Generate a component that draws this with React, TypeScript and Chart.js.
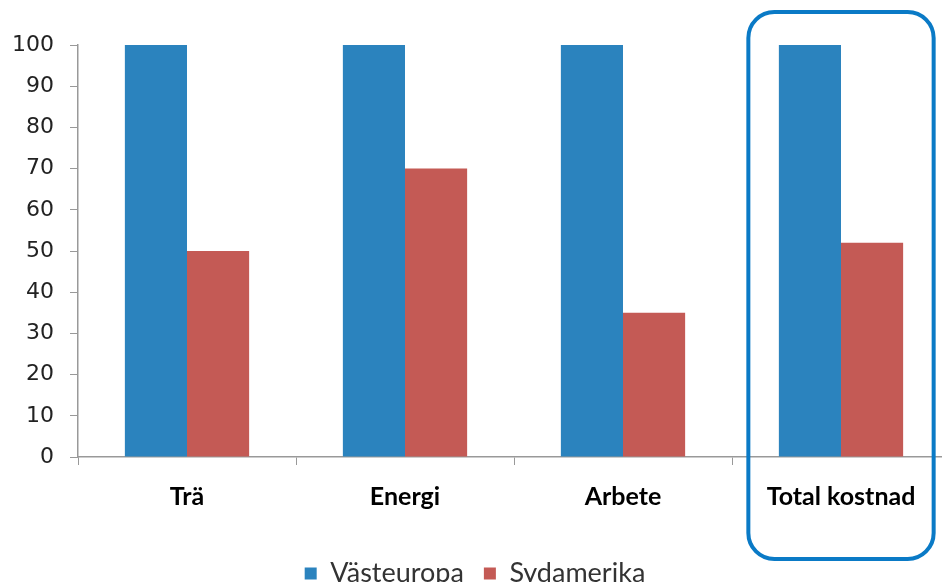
import React, { useEffect, useRef } from "react";
import { Chart, registerables } from "chart.js";

Chart.register(...registerables);

const categories = ["Trä", "Energi", "Arbete", "Total kostnad"];
const vasteuropa = [100, 100, 100, 100];
const sydamerika = [50, 70, 35, 52];
const seriesNames = ["Västeuropa", "Sydamerika"];
const highlightIndex = 3;

const highlightPlugin = {
  id: "highlight",
  afterDraw(chart: any) {
    const x = chart.scales.x;
    const n = chart.data.labels.length;
    const catW = (x.right - x.left) / n;
    const cx = x.getPixelForValue(highlightIndex);
    const left = cx - catW * 0.425;
    const right = cx + catW * 0.425;
    const top = 12;
    const bottom = 559;
    const r = 26;
    const ctx = chart.ctx;
    ctx.save();
    ctx.strokeStyle = "#0A7AC6";
    ctx.lineWidth = 4;
    ctx.beginPath();
    ctx.roundRect(left, top, right - left, bottom - top, r);
    ctx.stroke();
    ctx.restore();
  },
};

export default function App() {
  const ref = useRef<HTMLCanvasElement>(null);
  useEffect(() => {
    document.body.style.margin = "0";
    document.body.style.overflow = "hidden";
    const chart = new Chart(ref.current!, {
      type: "bar",
      data: {
        labels: categories,
        datasets: [
          { label: seriesNames[0], data: vasteuropa, backgroundColor: "#2B83BE" },
          { label: seriesNames[1], data: sydamerika, backgroundColor: "#C45A55" },
        ],
      },
      options: {
        responsive: false,
        animation: false,
        layout: { padding: { top: 45, left: 0, right: 0, bottom: 0 } },
        datasets: { bar: { categoryPercentage: 0.57, barPercentage: 1 } },
        plugins: {
          tooltip: { enabled: false },
          legend: {
            position: "bottom",
            labels: {
              boxWidth: 12,
              boxHeight: 12,
              padding: 20,
              color: "#333",
              font: { family: "Lato", size: 27 },
            },
          },
        },
        scales: {
          x: {
            grid: {
              drawOnChartArea: false,
              tickLength: 8,
              offset: true,
              color: "#999",
            },
            border: { color: "#999", width: 1.5 },
            ticks: {
              color: "#000",
              padding: 17,
              font: { family: "Lato", size: 25, weight: "bold" },
            },
            afterFit(scale: any) {
              scale.height = 83;
            },
          },
          y: {
            min: 0,
            max: 100,
            ticks: {
              stepSize: 10,
              color: "#222",
              padding: 16,
              font: { family: "DejaVu Sans", size: 22 },
            },
            grid: { drawOnChartArea: false, tickLength: 8, color: "#999" },
            border: { color: "#999", width: 1.5 },
            afterFit(scale: any) {
              scale.width = 78;
            },
          },
        },
      },
      plugins: [highlightPlugin],
    });
    return () => chart.destroy();
  }, []);
  return (
    <div style={{ width: 942, height: 582, overflow: "hidden", background: "#fff" }}>
      <canvas ref={ref} width={950} height={597} />
    </div>
  );
}
